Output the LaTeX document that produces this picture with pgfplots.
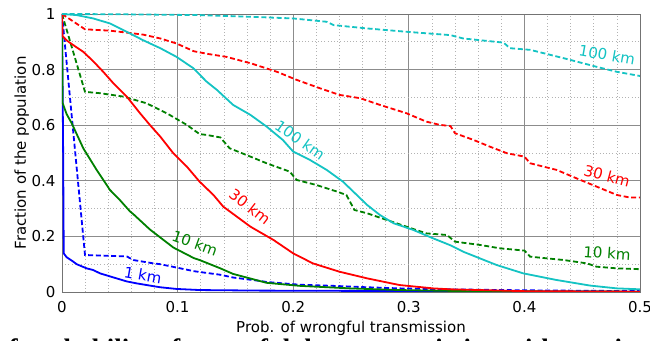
\documentclass[border=0pt]{standalone}
\usepackage{fontspec}
\setmainfont{DejaVu Sans}
\newfontfamily\capfont{Liberation Serif}
\usepackage{pgfplots}
\pgfplotsset{compat=1.18}
\definecolor{cblue}{RGB}{0,0,255}
\definecolor{cgreen}{RGB}{0,128,0}
\definecolor{cred}{RGB}{255,0,0}
\definecolor{ccyan}{RGB}{20,195,195}
\begin{document}
\fontsize{11.25}{13.5}\selectfont
\begin{tikzpicture}
\useasboundingbox (-46.5pt,-36.75pt) rectangle (441pt,219pt);
\clip (-46.5pt,-36.75pt) rectangle (441pt,219pt);
\begin{axis}[
  width=433.5pt, height=208.5pt, scale only axis,
  at={(0pt,0pt)}, anchor=south west,
  xmin=0, xmax=0.5, ymin=0, ymax=1,
  xtick={0,0.1,0.2,0.3,0.4,0.5},
  ytick={0,0.2,0.4,0.6,0.8,1},
  minor x tick num=4, minor y tick num=1,
  grid=both,
  major grid style={color=black!45, line width=0.6pt},
  minor grid style={color=black!30, dotted, line width=0.5pt},
  axis line style={black!55, line width=0.6pt},
  tick style={draw=none},
  tick label style={font=\fontsize{11.25}{13.5}\selectfont},
  label style={font=\fontsize{11.25}{13.5}\selectfont},
  /pgf/number format/assume math mode=true,
  xticklabel style={yshift=-3pt},
  yticklabel style={xshift=-1pt},
  xlabel={Prob. of wrongful transmission},
  ylabel={Fraction of the population},
  xlabel style={at={(axis description cs:0.5,-0.1295)},anchor=center},
  ylabel style={at={(axis description cs:-0.0697,0.5)},anchor=center},
  every axis plot/.append style={line width=1.35pt},
  clip=true,
]
% blue solid 1 km
\addplot[cblue] coordinates {
(0,1) (0.001,0.5) (0.0015,0.139) (0.004,0.125) (0.0098,0.109) (0.0127,0.100)
(0.0213,0.085) (0.027,0.079) (0.0329,0.067) (0.044,0.053) (0.056,0.038)
(0.0646,0.031) (0.079,0.021) (0.085,0.017) (0.099,0.011) (0.119,0.007)
(0.171,0.005) (0.25,0.004) (0.35,0.002) (0.5,0.001)};
% blue dashed
\addplot[cblue, dash pattern=on 3.75pt off 2pt] coordinates {
(0,1) (0.0199,0.133) (0.0415,0.130) (0.056,0.128) (0.0617,0.115) (0.079,0.103)
(0.085,0.100) (0.099,0.088) (0.114,0.075) (0.119,0.072) (0.137,0.062)
(0.148,0.052) (0.171,0.040) (0.177,0.036) (0.206,0.026) (0.235,0.022)
(0.264,0.017) (0.292,0.013) (0.333,0.0096) (0.4,0.006) (0.5,0.003)};
% green solid 10 km
\addplot[cgreen] coordinates {
(0,1) (0.0005,0.68) (0.004,0.64) (0.0084,0.607) (0.0184,0.517) (0.030,0.439)
(0.0415,0.367) (0.050,0.331) (0.0588,0.290) (0.0617,0.280) (0.076,0.225)
(0.0963,0.160) (0.114,0.122) (0.119,0.115) (0.137,0.085) (0.148,0.065)
(0.177,0.033) (0.206,0.022) (0.249,0.013) (0.292,0.007) (0.35,0.003) (0.5,0.001)};
% green dashed
\addplot[cgreen, dash pattern=on 3.75pt off 2pt] coordinates {
(0,1) (0.0199,0.72) (0.0329,0.715) (0.053,0.703) (0.073,0.679) (0.0906,0.643)
(0.108,0.601) (0.119,0.568) (0.125,0.565) (0.137,0.556) (0.145,0.517)
(0.163,0.487) (0.177,0.463) (0.197,0.433) (0.203,0.403) (0.220,0.385)
(0.238,0.361) (0.246,0.349) (0.253,0.295) (0.264,0.283) (0.281,0.259)
(0.298,0.235) (0.315,0.211) (0.333,0.205) (0.340,0.181) (0.362,0.169)
(0.379,0.157) (0.400,0.149) (0.405,0.127) (0.434,0.115) (0.454,0.103)
(0.4625,0.091) (0.48,0.085) (0.5,0.082)};
% red solid 30 km
\addplot[cred] coordinates {
(0,1) (0.0005,0.92) (0.004,0.905) (0.0098,0.888) (0.0184,0.864) (0.027,0.830)
(0.0357,0.792) (0.0444,0.751) (0.056,0.703) (0.0675,0.643) (0.076,0.601)
(0.085,0.559) (0.0963,0.499) (0.108,0.451) (0.119,0.397) (0.131,0.349)
(0.1395,0.307) (0.163,0.235) (0.183,0.187) (0.200,0.139) (0.217,0.103)
(0.240,0.073) (0.264,0.049) (0.292,0.025) (0.321,0.013) (0.336,0.0096)
(0.4,0.003) (0.5,0.001)};
% red dashed
\addplot[cred, dash pattern=on 3.75pt off 2pt] coordinates {
(0,1) (0.0199,0.945) (0.0415,0.940) (0.056,0.933) (0.070,0.926) (0.085,0.912)
(0.099,0.894) (0.114,0.866) (0.1266,0.856) (0.142,0.846) (0.163,0.823)
(0.186,0.792) (0.203,0.763) (0.223,0.733) (0.240,0.709) (0.258,0.697)
(0.275,0.673) (0.298,0.643) (0.315,0.613) (0.327,0.601) (0.336,0.597)
(0.340,0.571) (0.356,0.547) (0.370,0.523) (0.385,0.499) (0.400,0.487)
(0.405,0.463) (0.428,0.439) (0.445,0.409) (0.4625,0.379) (0.48,0.349)
(0.491,0.340) (0.5,0.340)};
% cyan solid 100 km
\addplot[ccyan] coordinates {
(0,1) (0.0127,0.996) (0.027,0.984) (0.0415,0.966) (0.056,0.936) (0.070,0.906)
(0.085,0.877) (0.099,0.846) (0.1136,0.805) (0.125,0.757) (0.134,0.727)
(0.148,0.673) (0.163,0.637) (0.177,0.595) (0.191,0.547) (0.200,0.505)
(0.2145,0.475) (0.229,0.439) (0.243,0.397) (0.252,0.361) (0.264,0.313)
(0.275,0.277) (0.287,0.247) (0.304,0.223) (0.321,0.193) (0.336,0.168)
(0.347,0.145) (0.376,0.097) (0.399,0.067) (0.428,0.043) (0.457,0.023)
(0.48,0.013) (0.5,0.0096)};
% cyan dashed
\addplot[ccyan, dash pattern=on 3.75pt off 2pt] coordinates {
(0,1) (0.05,0.999) (0.119,0.996) (0.163,0.990) (0.200,0.984) (0.229,0.972)
(0.235,0.960) (0.264,0.948) (0.298,0.936) (0.336,0.924) (0.347,0.912)
(0.382,0.897) (0.3875,0.877) (0.405,0.871) (0.434,0.841) (0.4625,0.810)
(0.48,0.792) (0.5,0.777)};
% labels
\node[ccyan, rotate=-10, inner sep=1pt] at (axis cs:0.4715,0.853) {100 km};
\node[cred, rotate=-15, inner sep=1pt] at (axis cs:0.4715,0.417) {30 km};
\node[cgreen, rotate=-4, inner sep=1pt] at (axis cs:0.4715,0.140) {10 km};
\node[ccyan, rotate=-35, inner sep=1pt] at (axis cs:0.206,0.547) {100 km};
\node[cred, rotate=-38, inner sep=1pt] at (axis cs:0.1626,0.306) {30 km};
\node[cgreen, rotate=-20, inner sep=1pt] at (axis cs:0.115,0.176) {10 km};
\node[cblue, rotate=-10, inner sep=1pt] at (axis cs:0.070,0.061) {1 km};
\end{axis}
\node[anchor=base west, inner sep=0pt] at (-50pt,-49pt) {\capfont\bfseries\fontsize{20}{24}\selectfont of probability of wrongful data transmission with varying distance};
\end{tikzpicture}
\end{document}
